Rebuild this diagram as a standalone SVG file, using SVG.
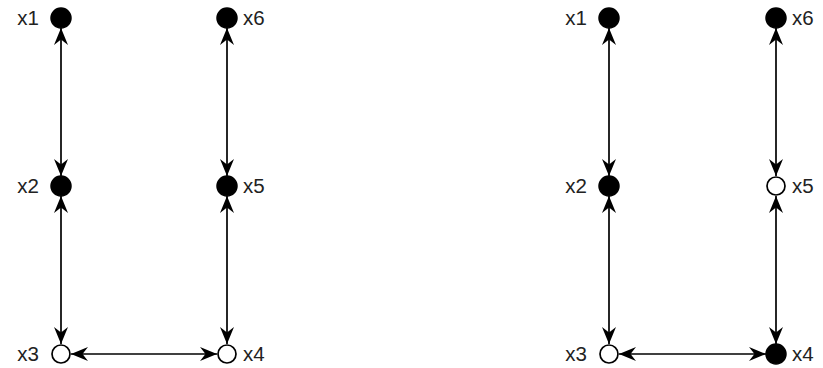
<svg xmlns="http://www.w3.org/2000/svg" width="823" height="368" viewBox="0 0 823 368">
  <style>
    .bg { fill: #ffffff; }
    .filled { fill: #000000; stroke: #000000; stroke-width: 1.5; }
    .open { fill: #ffffff; stroke: #000000; stroke-width: 1.7; }
    .label { font-family: "Liberation Sans", Arial, sans-serif; font-size: 20.5px; fill: #222222; }
    .lt { text-anchor: end; }
    .edge { stroke: #000000; stroke-width: 1.7; fill: none; marker-start: url(#arr); marker-end: url(#arr); }
  </style>
  <defs>
    <marker id="arr" viewBox="0 0 17 14" refX="17" refY="7" markerWidth="17" markerHeight="14" markerUnits="userSpaceOnUse" orient="auto-start-reverse">
      <path d="M0,0 L17,7 L0,14 L5.5,7 Z" fill="#000000"/>
    </marker>
  </defs>
  <rect class="bg" x="0" y="0" width="823" height="368"/>

  <!-- connectors -->
  <g id="edges">
    <line class="edge" x1="61" y1="28" x2="61" y2="176"/>
    <line class="edge" x1="61" y1="196" x2="61" y2="344"/>
    <line class="edge" x1="71" y1="354" x2="217" y2="354"/>
    <line class="edge" x1="227" y1="344" x2="227" y2="196"/>
    <line class="edge" x1="227" y1="176" x2="227" y2="28"/>

    <line class="edge" x1="609" y1="28" x2="609" y2="176"/>
    <line class="edge" x1="609" y1="196" x2="609" y2="344"/>
    <line class="edge" x1="619" y1="354" x2="766" y2="354"/>
    <line class="edge" x1="776" y1="344" x2="776" y2="196"/>
    <line class="edge" x1="776" y1="176" x2="776" y2="28"/>
  </g>

  <!-- left graph -->
  <g id="a-x1"><circle class="filled" cx="61" cy="18" r="10"/><text class="label lt" x="39" y="25">x1</text></g>
  <g id="a-x2"><circle class="filled" cx="61" cy="186" r="10"/><text class="label lt" x="39" y="193">x2</text></g>
  <g id="a-x3"><circle class="open" cx="61" cy="354" r="9"/><text class="label lt" x="39" y="361">x3</text></g>
  <g id="a-x4"><circle class="open" cx="227" cy="354" r="9"/><text class="label" x="243" y="361">x4</text></g>
  <g id="a-x5"><circle class="filled" cx="227" cy="186" r="10"/><text class="label" x="243" y="193">x5</text></g>
  <g id="a-x6"><circle class="filled" cx="227" cy="18" r="10"/><text class="label" x="243" y="25">x6</text></g>

  <!-- right graph -->
  <g id="b-x1"><circle class="filled" cx="609" cy="18" r="10"/><text class="label lt" x="587" y="25">x1</text></g>
  <g id="b-x2"><circle class="filled" cx="609" cy="186" r="10"/><text class="label lt" x="587" y="193">x2</text></g>
  <g id="b-x3"><circle class="open" cx="609" cy="354" r="9"/><text class="label lt" x="587" y="361">x3</text></g>
  <g id="b-x4"><circle class="filled" cx="776" cy="354" r="10"/><text class="label" x="792" y="361">x4</text></g>
  <g id="b-x5"><circle class="open" cx="776" cy="186" r="9"/><text class="label" x="792" y="193">x5</text></g>
  <g id="b-x6"><circle class="filled" cx="776" cy="18" r="10"/><text class="label" x="792" y="25">x6</text></g>
</svg>
